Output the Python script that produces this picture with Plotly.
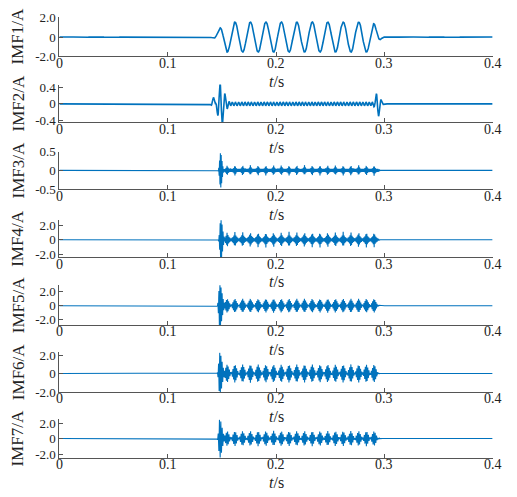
import numpy as np
import plotly.graph_objects as go

W, H = 517, 497

# ---------------- data ----------------
imf_labels = ["IMF1/A", "IMF2/A", "IMF3/A", "IMF4/A", "IMF5/A", "IMF6/A", "IMF7/A"]
y_ranges = [[-2.0, 2.1], [-0.45, 0.47], [-0.5, 0.5], [-2.4, 2.67],
            [-2.76, 2.9], [-2.0, 2.3], [-2.5, 2.5]]
y_tickvals = [[-2, 0, 2], [-0.4, 0, 0.4], [-0.5, 0, 0.5], [-2, 0, 2],
              [-2, 0, 2], [-2, 0, 2], [-2, 0, 2]]
y_ticktext = [["-2.0", "0", "2.0"], ["-0.4", "0", "0.4"], ["-0.5", "0", "0.5"],
              ["-2.0", "0", "2.0"], ["-2.0", "0", "2.0"], ["-2.0", "0", "2.0"],
              ["-2.0", "0", "2.0"]]
x_tickvals = [0, 0.1, 0.2, 0.3, 0.4]
x_ticktext = ["0", "0.1", "0.2", "0.3", "0.4"]

# time base
fs = 20000
t_end = 0.4

# IMF1: fundamental oscillation
imf1_freq = 70.0          # Hz
imf1_amp = 1.55
imf1_peak_ref = 0.1478    # s, time of a crest
imf1_on = [0.139, 0.155]
imf1_off = [0.288, 0.300]
imf1_ripple = 0.03

# IMF2: onset burst, steady ripple, offset burst
imf2_burst_on = dict(A=0.54, tc=0.1483, te=0.1494, w=0.004, f=227.0)
imf2_pre = dict(A=0.18, tc=0.1421, te=0.1425, w=0.002, f=200.0)
imf2_burst_off = dict(A=0.32, tc=0.2925, te=0.2940, w=0.0028, f=217.0)
imf2_ripple_amp = 0.045
imf2_ripple_freq = 340.0
imf2_ripple_win = [0.152, 0.289]

# IMF3..IMF7: onset burst + periodic (beat) packets
beat_period = 0.00714     # s, spacing of packets
beat_ref = 0.1478
burst_time = [0.1488, 0.149, 0.148, 0.148, 0.148]          # IMF3..7
burst_amp = [0.46, 2.9, 3.1, 2.25, 2.5]
burst_decay = [0.0018, 0.0022, 0.0030, 0.0030, 0.0030]
carrier_freq = [1300.0, 1100.0, 1000.0, 900.0, 800.0]
packet_peak = [0.14, 1.1, 1.0, 1.0, 1.0]
packet_base = [0.04, 0.15, 0.0, 0.0, 0.0]
packet_sharp = [4.0, 6.0, 1.0, 1.0, 1.0]
packet_win = [[0.153, 0.294], [0.1535, 0.2935], [0.153, 0.2935],
              [0.153, 0.2935], [0.153, 0.2935]]

# ---------------- signal construction ----------------
t = np.arange(0, t_end + 0.5 / fs, 1.0 / fs)


def smoothstep(x, a, b):
    u = np.clip((x - a) / (b - a), 0, 1)
    return u * u * (3 - 2 * u)


def window(x, a, b, r=0.002):
    return smoothstep(x, a - r, a) * (1 - smoothstep(x, b, b + r))


def gabor(x, A, tc, te, w, f):
    return A * np.exp(-((x - te) / w) ** 2) * np.cos(2 * np.pi * f * (x - tc))


# IMF1
env1 = smoothstep(t, *imf1_on) * (1 - smoothstep(t, *imf1_off))
imf1 = imf1_amp * env1 * np.cos(2 * np.pi * imf1_freq * (t - imf1_peak_ref)) \
    + imf1_ripple * np.sin(2 * np.pi * 35 * t) * (1 - env1)

# IMF2
imf2 = gabor(t, **imf2_burst_on) + gabor(t, **imf2_pre) + gabor(t, **imf2_burst_off) \
    + imf2_ripple_amp * np.sin(2 * np.pi * imf2_ripple_freq * t) * window(t, *imf2_ripple_win)

# IMF3..7
ph = (t - beat_ref) / beat_period
tri = 1 - 2 * np.abs(ph - np.round(ph))
dense = []
for i in range(5):
    tb = burst_time[i]
    benv = np.where(t < tb, np.exp(-((t - tb) / 0.0012) ** 2),
                    np.exp(-((t - tb) / burst_decay[i]) ** 2))
    benv = burst_amp[i] * benv * (t > 0.1440)
    if i == 1:
        penv = packet_base[i] + (packet_peak[i] - packet_base[i]) * \
            (0.5 * tri + 0.5 * tri ** packet_sharp[i])
    else:
        penv = packet_base[i] + (packet_peak[i] - packet_base[i]) * tri ** packet_sharp[i]
    penv = penv * window(t, *packet_win[i], r=0.0025)
    env = np.maximum(benv, penv)
    dense.append(env * np.sin(2 * np.pi * carrier_freq[i] * t))

signals = [imf1, imf2] + dense
line_widths = [1.6, 1.6, 1.1, 1.1, 1.1, 1.1, 1.1]

# ---------------- layout geometry (pixels) ----------------
panel_px = [(10, 51), (80, 119), (149, 188), (220, 258), (287, 328), (356, 397), (425, 465)]
x_left, x_right = 59.4, 492.6
font_family = "Times New Roman, Liberation Serif, serif"
axis_color = "#555555"
text_color = "#222222"

fig = go.Figure()
annotations = []
for i, (sig, lab) in enumerate(zip(signals, imf_labels)):
    n = i + 1
    xa = "x" if n == 1 else f"x{n}"
    ya = "y" if n == 1 else f"y{n}"
    fig.add_trace(go.Scatter(x=t, y=sig, mode="lines",
                             line=dict(color="#0072BD", width=line_widths[i]),
                             xaxis=xa, yaxis=ya, showlegend=False, hoverinfo="skip"))
    top, bot = panel_px[i]
    dom_y = [1 - bot / H, 1 - top / H]
    common = dict(showline=True, linecolor=axis_color, linewidth=1, ticks="inside",
                  ticklen=4, tickcolor=axis_color, showgrid=False, zeroline=False,
                  mirror=False)
    fig.layout[f"xaxis{'' if n == 1 else n}"] = dict(
        domain=[x_left / W, x_right / W], range=[0, 0.4], anchor=ya,
        tickvals=x_tickvals, showticklabels=False, **common)
    fig.layout[f"yaxis{'' if n == 1 else n}"] = dict(
        domain=dom_y, range=y_ranges[i], anchor=xa,
        tickvals=y_tickvals[i], ticktext=y_ticktext[i],
        tickfont=dict(family=font_family, size=13, color=text_color), **common)
    # x tick labels placed just below the axis, as in the reference
    for xv, xt in zip(x_tickvals, x_ticktext):
        annotations.append(dict(x=xv, y=1 - (bot + 7) / H, xref=xa, yref="paper",
                                text=xt, showarrow=False, xanchor="center", yanchor="middle",
                                font=dict(family=font_family, size=14, color=text_color)))
    annotations.append(dict(x=18 / W, y=1 - (top + bot) / 2 / H, xref="paper", yref="paper",
                            text=lab, textangle=-90, showarrow=False,
                            xanchor="center", yanchor="middle",
                            font=dict(family=font_family, size=17, color=text_color)))
    annotations.append(dict(x=276 / W, y=1 - (bot + 25.5) / H, xref="paper", yref="paper",
                            text="<i>t</i>/s", showarrow=False,
                            xanchor="center", yanchor="middle",
                            font=dict(family=font_family, size=16, color=text_color)))

fig.update_layout(width=W, height=H, margin=dict(l=0, r=0, t=0, b=0),
                  paper_bgcolor="white", plot_bgcolor="white",
                  font=dict(family=font_family, color=text_color),
                  annotations=annotations)
fig.write_html("out.html")
